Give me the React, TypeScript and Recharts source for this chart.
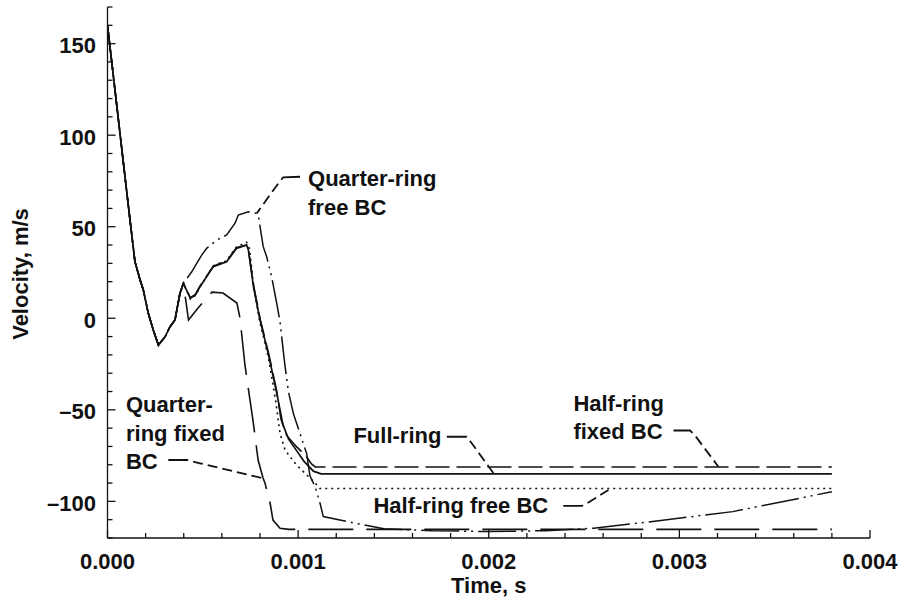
import React from 'react';
import { LineChart, Line, XAxis, YAxis, ReferenceDot } from 'recharts';

// [time s, velocity m/s]
const initialDrop: [number, number][] = [
  [0, 160], [0.000118, 53.7], [0.000144, 30.9], [0.000171, 20.9], [0.000188, 15.4],
  [0.000214, 2.7], [0.00024, -6.4], [0.000267, -14.6], [0.000302, -10.1],
  [0.000328, -4.6], [0.000354, -0.9], [0.00038, 13.6], [0.000398, 19.1],
];

const fullRing: [number, number][] = [
  ...initialDrop,
  [0.000435, 10.9], [0.000461, 12.7], [0.000485, 17.2], [0.000555, 28.2], [0.000625, 30.9],
  [0.000677, 38.2], [0.00073, 40], [0.000739, 37.3], [0.000766, 17.2], [0.0008, -0.9],
  [0.000845, -20], [0.000888, -41], [0.00092, -58], [0.00095, -66], [0.00099, -72],
  [0.00103, -78], [0.00108, -83.5], [0.00112, -85], [0.0038, -85],
];

const halfRingFixed: [number, number][] = [
  ...initialDrop,
  [0.000435, 11.2], [0.000461, 13], [0.000485, 17.5], [0.000555, 28.5], [0.000625, 31.3],
  [0.000677, 38.5], [0.000728, 40], [0.000739, 37.5], [0.000768, 17], [0.000802, -1],
  [0.000847, -20], [0.000888, -40], [0.00091, -55], [0.00094, -64], [0.00099, -70],
  [0.00104, -75], [0.00107, -79.5], [0.00109, -81.2], [0.0038, -81.2],
];

const halfRingFree: [number, number][] = [
  ...initialDrop,
  [0.000435, 10.5], [0.000461, 12.4], [0.000485, 17], [0.000555, 28.6], [0.000625, 31.5],
  [0.000677, 39], [0.00073, 41.5], [0.000745, 38], [0.000766, 18], [0.000795, 0],
  [0.000845, -22], [0.000882, -45], [0.000905, -62.8], [0.000931, -71.9], [0.00099, -80],
  [0.00104, -85], [0.00108, -89], [0.001115, -93], [0.0038, -93],
];

const quarterRingFree: [number, number][] = [
  ...initialDrop,
  [0.000442, 25.4], [0.000468, 30], [0.000494, 34.5], [0.00052, 38.2], [0.000573, 42.7],
  [0.000625, 45.5], [0.000669, 51.9], [0.000686, 56.4], [0.000739, 58.2], [0.000783, 57.3],
  [0.000791, 56], [0.000817, 39.1], [0.000835, 33.6], [0.000861, 22.7], [0.000888, 8],
  [0.000905, -2], [0.00093, -25], [0.000949, -40], [0.000975, -52], [0.00101, -63],
  [0.001045, -74], [0.001062, -86], [0.001089, -92], [0.001115, -101], [0.001132, -108.3],
  [0.001255, -111], [0.00145, -115], [0.0017, -116], [0.002, -116.5], [0.0023, -116],
  [0.00255, -114.7], [0.00285, -111.1], [0.00328, -105.6], [0.00363, -98.3], [0.0038, -94.7],
];

const quarterRingFixed: [number, number][] = [
  ...initialDrop,
  [0.000425, -1], [0.000475, 5.6], [0.000548, 14.3], [0.000606, 13.8], [0.000679, 8.3],
  [0.000695, 0.1], [0.000721, -25.5], [0.000732, -33.7], [0.000763, -55.6], [0.00079, -77.4],
  [0.000816, -87.2], [0.000826, -90], [0.000853, -100.9], [0.000868, -110.2],
  [0.000905, -114.7], [0.00095, -115.3], [0.0038, -115.3],
];

// label leader lines, drawn from the text end to the curve
const leaderQuarterFree: [number, number][] = [[0.00101, 77.3], [0.000922, 77.0], [0.000896, 73.7], [0.000783, 57.3]];
const leaderFullRing: [number, number][] = [[0.00178, -64.7], [0.001884, -64.7], [0.001902, -67], [0.002024, -84.5]];
const leaderHalfFixed: [number, number][] = [[0.002969, -61.3], [0.003056, -61.3], [0.003082, -64], [0.003205, -81.1]];
const leaderHalfFree: [number, number][] = [[0.002391, -102.5], [0.002488, -102.5], [0.002514, -101.1], [0.002628, -93.8]];
const leaderQuarterFixed: [number, number][] = [[0.000319, -77.4], [0.000416, -77.4], [0.000485, -79.2], [0.000817, -87.4]];

const labels = [
  { id: 'qfree', t: 0.001052, v: 72.2, lines: ['Quarter-ring', 'free BC'] },
  { id: 'full', t: 0.00129, v: -68.1, lines: ['Full-ring'] },
  { id: 'hfixed', t: 0.002444, v: -50.5, lines: ['Half-ring', 'fixed BC'] },
  { id: 'hfree', t: 0.001395, v: -106.4, lines: ['Half-ring free BC'] },
  { id: 'qfixed', t: 0.000097, v: -51.4, lines: ['Quarter-', 'ring fixed', 'BC'] },
];

const xMajorTicks = [0, 0.001, 0.002, 0.003, 0.004];
const xTickLabels = ['0.000', '0.001', '0.002', '0.003', '0.004'];
const xAllTicks = [
  0, 0.0002, 0.0004, 0.0006, 0.0008, 0.001, 0.0012, 0.0014, 0.0016, 0.0018, 0.002,
  0.0022, 0.0024, 0.0026, 0.0028, 0.003, 0.0032, 0.0034, 0.0036, 0.0038, 0.004,
];
const yMajorTicks = [-100, -50, 0, 50, 100, 150];
const yTickLabels = ['\u2013100', '\u201350', '0', '50', '100', '150'];
const yAllTicks = [
  -120, -110, -100, -90, -80, -70, -60, -50, -40, -30, -20, -10, 0, 10, 20, 30, 40,
  50, 60, 70, 80, 90, 100, 110, 120, 130, 140, 150, 160, 170,
];

const toPts = (a: [number, number][]) => a.map(([t, v]) => ({ t, v }));

const series = [
  { key: 'full', data: toPts(fullRing), dash: undefined, w: 1.7 },
  { key: 'hfixed', data: toPts(halfRingFixed), dash: '24 7', w: 1.6 },
  { key: 'hfree', data: toPts(halfRingFree), dash: '2 4', w: 1.6 },
  { key: 'qfree', data: toPts(quarterRingFree), dash: '38 5 2 5 2 5', w: 1.5 },
  { key: 'qfixed', data: toPts(quarterRingFixed), dash: '45 13', w: 1.6 },
];

const leaders = [leaderQuarterFree, leaderFullRing, leaderHalfFixed, leaderHalfFree, leaderQuarterFixed].map(toPts);

const FONT = "'Liberation Sans', Arial, Helvetica, sans-serif";
const INK = '#111';

const near = (list: number[], v: number) => list.findIndex((m) => Math.abs(m - v) < 1e-9);

const BottomTick = (props: any) => {
  const { x, y, payload } = props;
  const idx = near(xMajorTicks, payload.value);
  return (
    <g>
      <line x1={x} x2={x} y1={y} y2={y - (idx >= 0 ? 8 : 5)} stroke={INK} strokeWidth={1.3} />
      {idx >= 0 && (
        <text x={x} y={y + 31} textAnchor="middle" fontFamily={FONT} fontWeight={700} fontSize={22} fill={INK}>
          {xTickLabels[idx]}
        </text>
      )}
    </g>
  );
};

const TopTick = (props: any) => {
  const { x, y, payload } = props;
  const major = near(xMajorTicks, payload.value) >= 0;
  return <line x1={x} x2={x} y1={y} y2={y + (major ? 8 : 5)} stroke={INK} strokeWidth={1.3} />;
};

const LeftTick = (props: any) => {
  const { x, y, payload } = props;
  const idx = near(yMajorTicks, payload.value);
  return (
    <g>
      <line x1={x} x2={x + (idx >= 0 ? 8 : 5)} y1={y} y2={y} stroke={INK} strokeWidth={1.3} />
      {idx >= 0 && (
        <text x={96} y={y + 9.5} textAnchor="end" fontFamily={FONT} fontWeight={700} fontSize={22} fill={INK}>
          {yTickLabels[idx]}
        </text>
      )}
    </g>
  );
};

const RightTick = (props: any) => {
  const { x, y, payload } = props;
  const major = near(yMajorTicks, payload.value) >= 0;
  return <line x1={x} x2={x - (major ? 8 : 5)} y1={y} y2={y} stroke={INK} strokeWidth={1.3} />;
};

const YTitle = (props: any) => {
  const vb = props.viewBox;
  const cx = vb.x + 28;
  const cy = vb.y + vb.height / 2 + 1.5;
  return (
    <text x={cx} y={cy} transform={`rotate(-90, ${cx}, ${cy})`} textAnchor="middle" fontFamily={FONT} fontWeight={700} fontSize={22} fill={INK}>
      Velocity, m/s
    </text>
  );
};

const XTitle = (props: any) => {
  const vb = props.viewBox;
  return (
    <text x={vb.x + vb.width / 2} y={vb.y + 55} textAnchor="middle" fontFamily={FONT} fontWeight={700} fontSize={22} fill={INK}>
      Time, s
    </text>
  );
};

const makeLabelShape = (lines: string[]) => (props: any) => (
  <text x={props.cx} y={props.cy} fontFamily={FONT} fontWeight={700} fontSize={22} fill={INK}>
    {lines.map((ln, i) => (
      <tspan key={i} x={props.cx} dy={i === 0 ? 0 : 28.5}>
        {ln}
      </tspan>
    ))}
  </text>
);

export default function App() {
  return (
    <div style={{ position: 'absolute', left: 0, top: 0, width: 905, height: 604, background: '#fff' }}>
      <LineChart width={905} height={604} margin={{ top: 7, right: 35, bottom: 0, left: 0 }}>
        <XAxis
          xAxisId="b"
          dataKey="t"
          type="number"
          domain={[0, 0.004]}
          allowDataOverflow
          ticks={xAllTicks}
          interval={0}
          tickSize={0}
          tickMargin={0}
          tickLine={false}
          tick={BottomTick}
          height={66}
          axisLine={{ stroke: INK, strokeWidth: 1.3 }}
          label={{ content: XTitle }}
        />
        <XAxis
          xAxisId="top"
          orientation="top"
          dataKey="t"
          type="number"
          domain={[0, 0.004]}
          allowDataOverflow
          ticks={xAllTicks}
          interval={0}
          tickSize={0}
          tickMargin={0}
          tickLine={false}
          tick={TopTick}
          height={0}
          axisLine={{ stroke: INK, strokeWidth: 1.3 }}
        />
        <YAxis
          yAxisId="l"
          type="number"
          domain={[-120, 170]}
          allowDataOverflow
          ticks={yAllTicks}
          interval={0}
          tickSize={0}
          tickMargin={0}
          tickLine={false}
          tick={LeftTick}
          width={107.5}
          axisLine={{ stroke: INK, strokeWidth: 1.3 }}
          label={{ content: YTitle }}
        />
        <YAxis
          yAxisId="r"
          orientation="right"
          type="number"
          domain={[-120, 170]}
          allowDataOverflow
          ticks={yAllTicks}
          interval={0}
          tickSize={0}
          tickMargin={0}
          tickLine={false}
          tick={RightTick}
          width={0}
          axisLine={{ stroke: INK, strokeWidth: 1.3 }}
        />
        {series.map((s) => (
          <Line
            key={s.key}
            xAxisId="b"
            yAxisId="l"
            data={s.data}
            dataKey="v"
            type="linear"
            stroke={INK}
            strokeWidth={s.w}
            strokeDasharray={s.dash}
            dot={false}
            activeDot={false}
            isAnimationActive={false}
          />
        ))}
        {leaders.map((d, i) => (
          <Line
            key={'leader' + i}
            xAxisId="b"
            yAxisId="l"
            data={d}
            dataKey="v"
            type="linear"
            stroke={INK}
            strokeWidth={1.8}
            strokeDasharray="20 5 10 5 10 5 10 5 10 5 10 5 10 5 10 5 10 5"
            dot={false}
            activeDot={false}
            isAnimationActive={false}
          />
        ))}
        {labels.map((l) => (
          <ReferenceDot
            key={l.id}
            xAxisId="b"
            yAxisId="l"
            x={l.t}
            y={l.v}
            r={0}
            ifOverflow="visible"
            shape={makeLabelShape(l.lines)}
          />
        ))}
      </LineChart>
    </div>
  );
}
